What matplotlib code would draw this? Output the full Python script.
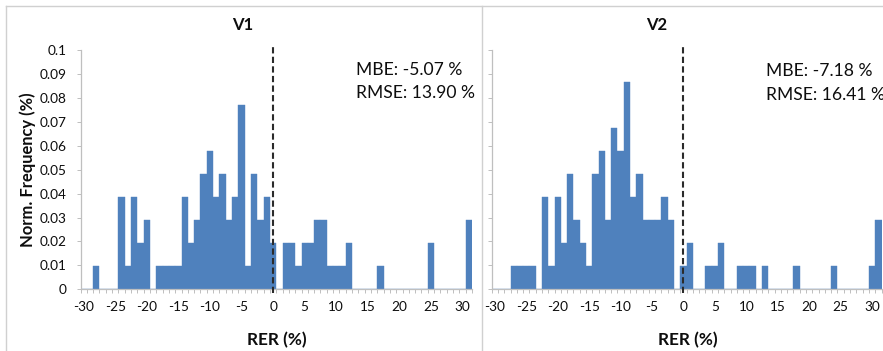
import numpy as np
import matplotlib
matplotlib.use("Agg")
import matplotlib.pyplot as plt
from matplotlib.lines import Line2D

# Histogram bins (1 % wide, centred on integers) and counts per bin
bin_centers = np.arange(-30, 32)

v1_counts = [0, 0, 1, 0, 0, 0, 4, 1, 4, 2, 3, 0, 1, 1, 1, 1, 4, 2, 3, 5, 6,
             4, 5, 3, 4, 8, 1, 5, 3, 4,
             2,
             0, 2, 2, 1, 2, 2, 3, 3, 1, 1, 1, 2, 0, 0, 0, 0, 1, 0, 0, 0, 0,
             0, 0, 0, 2, 0, 0, 0, 0, 0, 3]

v2_counts = [0, 0, 0, 1, 1, 1, 1, 0, 4, 1, 4, 2, 5, 3, 2, 1, 5, 6, 3, 7, 6,
             9, 4, 5, 3, 3, 3, 4, 3, 0,
             1,
             2, 0, 0, 1, 1, 2, 0, 0, 1, 1, 1, 0, 1, 0, 0, 0, 0, 1, 0, 0, 0,
             0, 0, 1, 0, 0, 0, 0, 0, 1, 3]

panel_titles = ["V1", "V2"]
mbe_values = [-5.07, -7.18]
rmse_values = [13.90, 16.41]

x_tick_values = np.arange(-30, 31, 5)
y_tick_values = [0, 0.01, 0.02, 0.03, 0.04, 0.05, 0.06, 0.07, 0.08, 0.09, 0.1]
y_tick_labels = ["0", "0.01", "0.02", "0.03", "0.04", "0.05", "0.06",
                 "0.07", "0.08", "0.09", "0.1"]

plt.rcParams["font.family"] = ["Lato", "DejaVu Sans"]

W, H = 883, 351
fig = plt.figure(figsize=(W / 100, H / 100), dpi=100)
fig.patch.set_facecolor("white")

BAR = "#4F81BD"
AXIS_GREY = "#BFBFBF"
TEXT = "#0D0D0D"


def axes_px(left, right, top, bottom):
    return fig.add_axes([left / W, 1 - bottom / H,
                         (right - left) / W, (bottom - top) / H])


def fig_line(xs, ys, **kw):
    fig.add_artist(Line2D([x / W for x in xs], [1 - y / H for y in ys],
                          transform=fig.transFigure, **kw))


# chart frames
fig_line([6, 6], [6, H], color="#D0D0D0", lw=1.0)
fig_line([6, W], [6, 6], color="#D0D0D0", lw=1.0)
fig_line([482, 482], [6, H], color="#D0D0D0", lw=1.0)

panels = [
    dict(counts=v1_counts, box=(80.5, 472, 50, 289.3), ylabels=True,
         title_x=243, stats_x=356, stats_y=(75, 98.3), xlabel_x=277),
    dict(counts=v2_counts, box=(491.7, 881.5, 50, 289.3), ylabels=False,
         title_x=657, stats_x=766, stats_y=(76.5, 99.8), xlabel_x=688),
]

for i, p in enumerate(panels):
    ax = axes_px(*p["box"])
    counts = np.asarray(p["counts"], dtype=float)
    freq = counts / counts.sum()
    ax.bar(bin_centers, freq, width=1.0, color=BAR, edgecolor=BAR,
           linewidth=0.3, align="center")

    ax.set_xlim(-30.5, 31.5)
    ax.set_ylim(0, 0.1)

    ax.axvline(0, ymin=-0.015, ymax=1.025, color="#2B2B2B", lw=1.5,
               dashes=(3, 1.6), clip_on=False, zorder=5)

    for side in ("top", "right"):
        ax.spines[side].set_visible(False)
    for side in ("left", "bottom"):
        ax.spines[side].set_color(AXIS_GREY)
        ax.spines[side].set_linewidth(0.9)

    ax.set_xticks(x_tick_values)
    ax.set_xticklabels([str(v) for v in x_tick_values])
    ax.set_xticks(np.arange(-30.5, 31.6, 1.0), minor=True)
    ax.tick_params(axis="x", which="major", length=0, pad=8.5,
                   labelsize=9.8, labelcolor=TEXT)
    ax.tick_params(axis="x", which="minor", length=3.2, width=0.7,
                   color=AXIS_GREY, direction="out")

    ax.set_yticks(y_tick_values)
    ax.set_yticklabels(y_tick_labels if p["ylabels"] else [])
    ax.tick_params(axis="y", which="major", length=3.2, width=0.7,
                   color=AXIS_GREY, direction="out", pad=7,
                   labelsize=9.8, labelcolor=TEXT)

    fig.text(p["title_x"] / W, 1 - 25.5 / H, panel_titles[i],
             ha="center", va="center", fontsize=12, fontweight="bold",
             color=TEXT)
    fig.text(p["stats_x"] / W, 1 - p["stats_y"][0] / H,
             f"MBE: {mbe_values[i]:.2f} %", ha="left", va="baseline",
             fontsize=12.6, color=TEXT)
    fig.text(p["stats_x"] / W, 1 - p["stats_y"][1] / H,
             f"RMSE: {rmse_values[i]:.2f} %", ha="left", va="baseline",
             fontsize=12.6, color=TEXT)
    fig.text(p["xlabel_x"] / W, 1 - 345.5 / H, "RER (%)",
             ha="center", va="baseline", fontsize=12.4, fontweight="bold",
             color=TEXT)

fig.text(28 / W, 1 - 170 / H, "Norm. Frequency (%)", rotation=90,
         ha="center", va="center", fontsize=11.9, fontweight="bold",
         color=TEXT)

fig.savefig("out.png", dpi=100, facecolor="white")
